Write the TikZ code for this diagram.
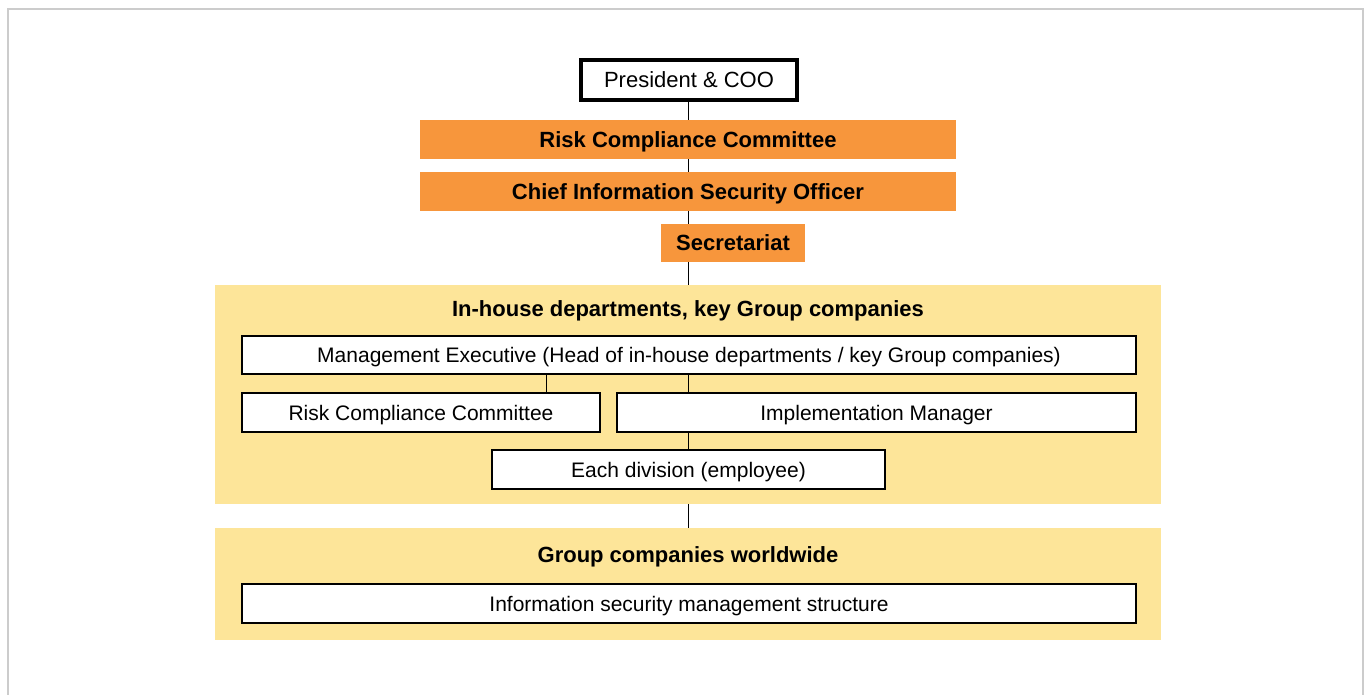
\documentclass[tikz,border=0pt]{standalone}
\usepackage{fontspec}
\setmainfont{Liberation Sans}
\usetikzlibrary{positioning}
\definecolor{isorange}{RGB}{247,150,60}
\definecolor{isyellow}{RGB}{253,229,153}
\definecolor{isframe}{RGB}{204,204,204}

\begin{document}
\begin{tikzpicture}[x=0.5pt, y=-0.5pt, font=\fontsize{10.5}{12}\selectfont,
  every node/.style={text height=1.6ex, text depth=0.1ex},
  wbox/.style={draw, fill=white, line width=0.7pt, inner sep=0pt},
  obox/.style={fill=isorange, inner sep=0pt, font=\fontsize{11}{13}\selectfont\bfseries},
  panel/.style={fill=isyellow, inner sep=0pt},
  ptitle/.style={font=\fontsize{11}{13}\selectfont\bfseries}]
\useasboundingbox (0,0) rectangle (1370,695);
% outer frame
\draw[isframe, line width=1pt] (8,695) -- (8,9) -- (1363,9) -- (1363,695);
% panels
\node[panel, minimum width=473pt, minimum height=109.5pt] (inhouse) at (688,394.5) {};
\node[panel, minimum width=473pt, minimum height=56pt] (world) at (688,584) {};
\node[ptitle] (inhousettl) at (688,309) {In-house departments, key Group companies};
\node[ptitle] (worldttl) at (688,555) {Group companies worldwide};
% top chain
\node[wbox, line width=1.6pt, minimum width=108pt, minimum height=20pt, font=\fontsize{11}{13}\selectfont] (pres) at (689,80) {President \& COO};
\node[obox, minimum width=268pt, minimum height=19.5pt] (rcc) at (688,139.5) {Risk Compliance Committee};
\node[obox, minimum width=268pt, minimum height=19.5pt] (ciso) at (688,191.5) {Chief Information Security Officer};
\node[obox, minimum width=72pt, minimum height=19pt] (sec) at (733,243) {Secretariat};
% in-house boxes
\node[wbox, minimum width=447pt, minimum height=19pt] (mgmt) at (689,355) {Management Executive (Head of in-house departments / key Group companies)};
\node[wbox, minimum width=179pt, minimum height=19.5pt] (rcclocal) at (421,412.5) {Risk Compliance Committee};
\node[wbox, minimum width=259.5pt, minimum height=19.5pt] (impl) at (876.5,412.5) {Implementation Manager};
\node[wbox, minimum width=196.5pt, minimum height=19.5pt] (div) at (688.5,469.5) {Each division (employee)};
\node[wbox, minimum width=447pt, minimum height=19.5pt] (isms) at (689,603.5) {Information security management structure};
% connectors
\draw (pres.south -| rcc.north) -- (rcc.north);
\draw (rcc.south) -- (ciso.north);
\draw (ciso.south) -- (ciso.south |- sec.north);
\draw (ciso.south |- sec.south) -- (inhouse.north);
\draw ([xshift=-27pt]rcclocal.north east |- mgmt.south) -- ([xshift=-27pt]rcclocal.north east);
\draw (mgmt.south -| div.north) -- (impl.north -| div.north);
\draw (impl.south -| div.north) -- (div.north);
\draw (inhouse.south) -- (world.north);
\end{tikzpicture}
\end{document}
